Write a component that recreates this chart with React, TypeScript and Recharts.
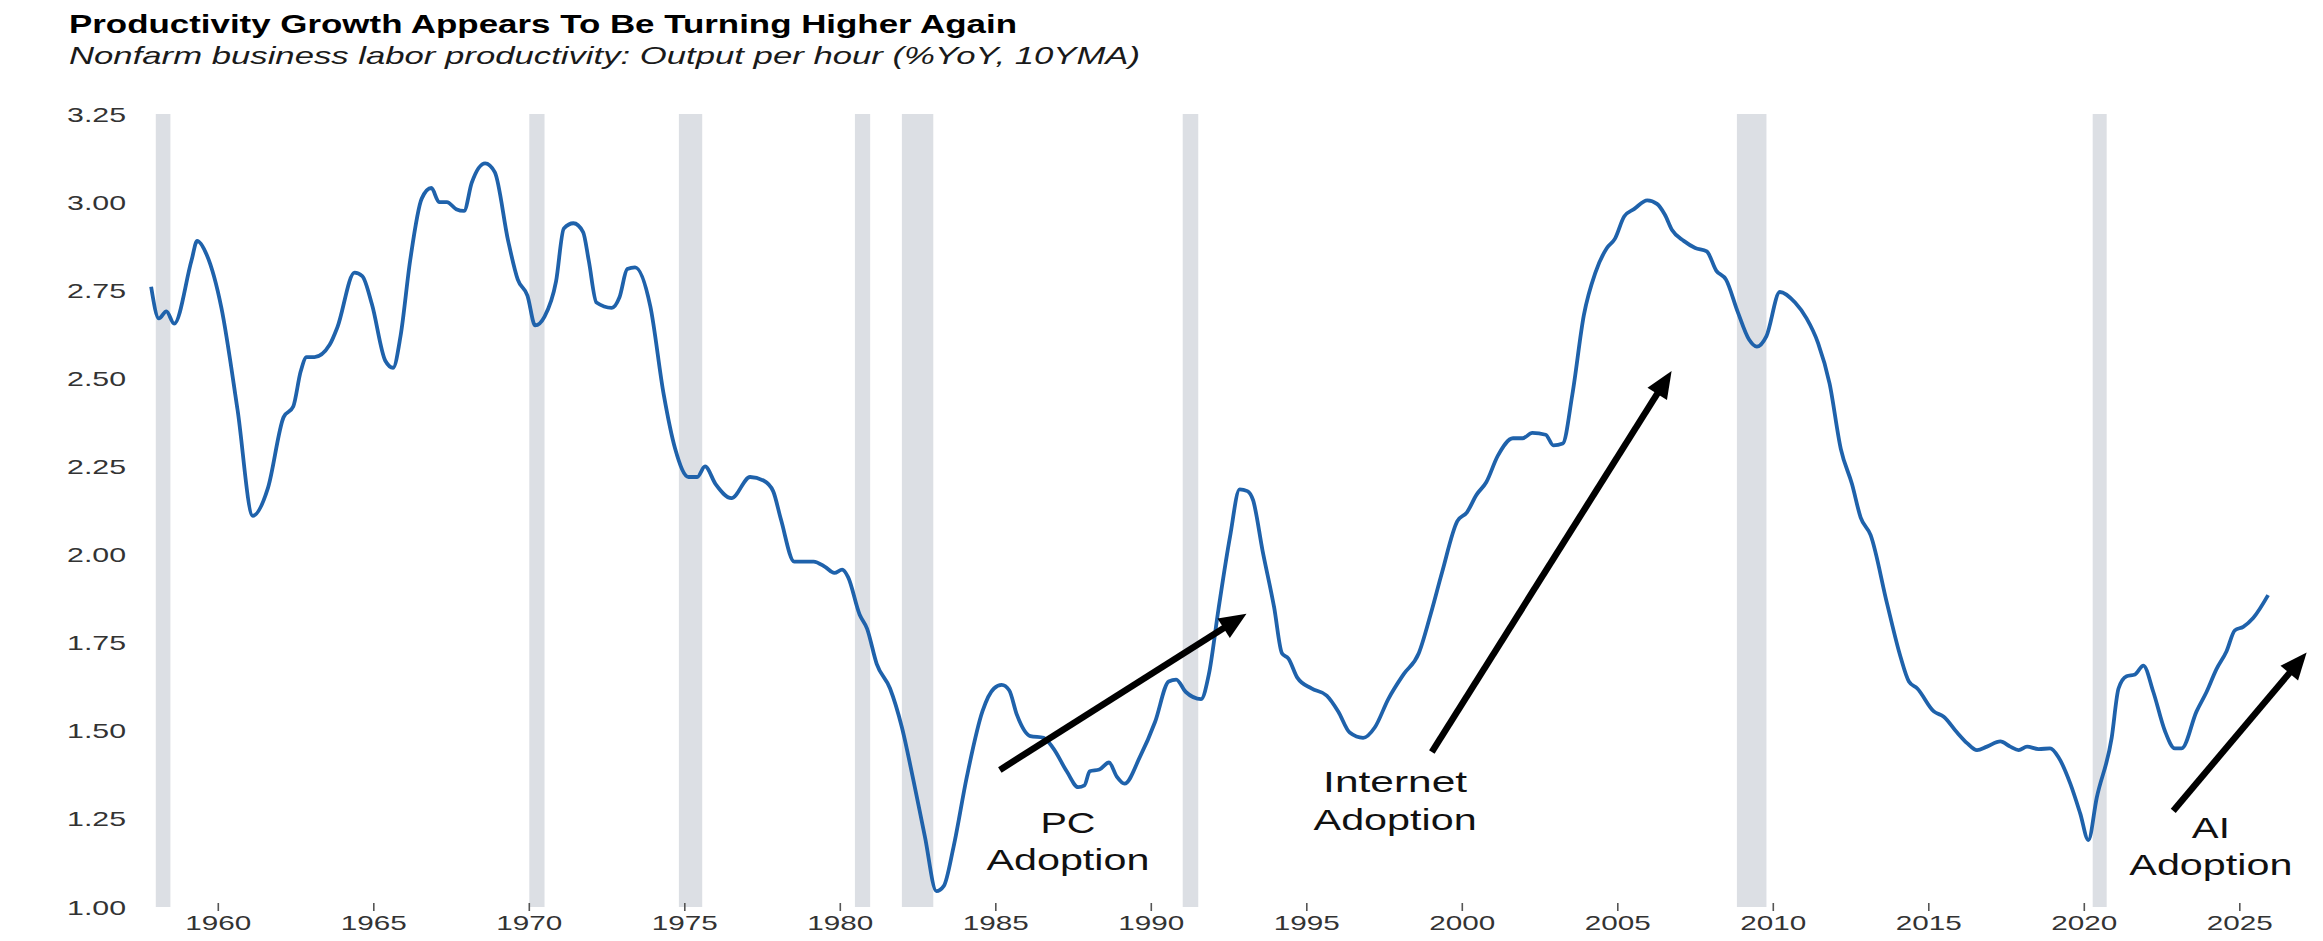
import React from 'react';
import { LineChart, Line, XAxis, YAxis, ReferenceArea, ReferenceLine, ReferenceDot } from 'recharts';

// Nonfarm business labor productivity, %YoY, 10-year moving average
const years = [
  1957.84, 1958.09, 1958.33, 1958.58, 1959.14, 1959.32, 1959.63, 1960.1, 1960.62, 1961.11,
  1961.6, 1962.1, 1962.41, 1962.65, 1962.84, 1963.09, 1963.58, 1963.83, 1964.38, 1964.63,
  1964.94, 1965.37, 1965.62, 1965.86, 1966.17, 1966.54, 1966.85, 1967.1, 1967.35, 1967.65,
  1967.9, 1968.15, 1968.58, 1968.89, 1969.32, 1969.63, 1969.94, 1970.19, 1970.49, 1970.86,
  1971.11, 1971.42, 1971.73, 1971.91, 1972.16, 1972.65, 1972.9, 1973.15, 1973.4, 1973.89,
  1974.32, 1974.69, 1975.12, 1975.4, 1975.65, 1975.99, 1976.5, 1977.1, 1977.53, 1977.84,
  1978.09, 1978.52, 1978.83, 1979.14, 1979.51, 1979.81, 1980.06, 1980.25, 1980.62, 1980.86,
  1981.17, 1981.6, 1981.98, 1982.35, 1982.72, 1983.09, 1983.33, 1983.64, 1984.07, 1984.57,
  1984.94, 1985.19, 1985.43, 1985.68, 1986.11, 1986.54, 1986.85, 1987.28, 1987.65, 1987.85,
  1988.02, 1988.33, 1988.64, 1988.89, 1989.14, 1989.63, 1990.12, 1990.56, 1990.8, 1991.11,
  1991.6, 1991.85, 1992.16, 1992.53, 1992.84, 1993.09, 1993.27, 1993.58, 1993.95, 1994.2,
  1994.41, 1994.7, 1995.15, 1995.64, 1996.01, 1996.38, 1996.81, 1997.19, 1997.62, 1998.11,
  1998.6, 1998.98, 1999.35, 1999.84, 2000.15, 2000.46, 2000.77, 2001.14, 2001.63, 2001.94,
  2002.25, 2002.68, 2002.93, 2003.23, 2003.54, 2003.91, 2004.28, 2004.65, 2004.9, 2005.21,
  2005.52, 2005.95, 2006.26, 2006.51, 2006.75, 2007.12, 2007.49, 2007.86, 2008.17, 2008.48,
  2008.85, 2009.22, 2009.47, 2009.78, 2010.21, 2010.7, 2011.07, 2011.44, 2011.81, 2012.17,
  2012.53, 2012.81, 2013.13, 2013.66, 2014.09, 2014.36, 2014.63, 2015.16, 2015.48, 2015.91,
  2016.23, 2016.55, 2016.87, 2017.3, 2017.62, 2017.89, 2018.16, 2018.53, 2018.9, 2019.17,
  2019.55, 2019.87, 2020.13, 2020.4, 2020.88, 2021.1, 2021.36, 2021.63, 2021.9, 2022.22,
  2022.59, 2022.91, 2023.13, 2023.61, 2023.93, 2024.25, 2024.57, 2024.84, 2025.11, 2025.43,
  2025.91,
];

const productivity = [
  2.76, 2.67, 2.69, 2.655, 2.835, 2.89, 2.85, 2.7, 2.41, 2.11,
  2.19, 2.39, 2.42, 2.52, 2.56, 2.56, 2.595, 2.645, 2.8, 2.79,
  2.71, 2.55, 2.53, 2.62, 2.835, 3.01, 3.04, 3.0, 3.0, 2.98,
  2.975, 3.055, 3.11, 3.085, 2.89, 2.78, 2.735, 2.65, 2.675, 2.775,
  2.925, 2.94, 2.915, 2.835, 2.715, 2.7, 2.73, 2.81, 2.815, 2.705,
  2.455, 2.3, 2.22, 2.22, 2.25, 2.2, 2.16, 2.22, 2.21, 2.18,
  2.1, 1.98, 1.98, 1.98, 1.965, 1.948, 1.957, 1.936, 1.83, 1.79,
  1.69, 1.62, 1.51, 1.36, 1.2, 1.045, 1.06, 1.17, 1.37, 1.555,
  1.62, 1.63, 1.615, 1.545, 1.485, 1.48, 1.45, 1.385, 1.34, 1.345,
  1.385, 1.39, 1.41, 1.37, 1.35, 1.425, 1.525, 1.64, 1.645, 1.61,
  1.59, 1.66, 1.845, 2.05, 2.185, 2.18, 2.155, 2.01, 1.85, 1.72,
  1.705, 1.65, 1.62, 1.6, 1.555, 1.495, 1.48, 1.51, 1.59, 1.66,
  1.72, 1.83, 1.95, 2.095, 2.12, 2.17, 2.205, 2.28, 2.33, 2.33,
  2.345, 2.34, 2.31, 2.315, 2.455, 2.68, 2.8, 2.87, 2.895, 2.96,
  2.98, 3.005, 2.995, 2.965, 2.92, 2.89, 2.87, 2.86, 2.805, 2.78,
  2.69, 2.61, 2.59, 2.62, 2.745, 2.715, 2.67, 2.6, 2.485, 2.3,
  2.2, 2.105, 2.055, 1.86, 1.71, 1.64, 1.62, 1.555, 1.54, 1.495,
  1.465, 1.445, 1.455, 1.47, 1.455, 1.445, 1.455, 1.448, 1.45, 1.425,
  1.35, 1.265, 1.19, 1.31, 1.48, 1.62, 1.655, 1.66, 1.685, 1.61,
  1.5, 1.45, 1.45, 1.555, 1.61, 1.675, 1.725, 1.785, 1.795, 1.82,
  1.885,
];

const recessionStart = [1957.99, 1970.0, 1974.81, 1980.47, 1981.98, 1991.01, 2008.83, 2020.27];
const recessionEnd = [1958.46, 1970.49, 1975.56, 1980.96, 1982.99, 1991.51, 2009.78, 2020.72];

const yTicks = [1, 1.25, 1.5, 1.75, 2, 2.25, 2.5, 2.75, 3, 3.25];
const xTicks = [1960, 1965, 1970, 1975, 1980, 1985, 1990, 1995, 2000, 2005, 2010, 2015, 2020, 2025];

// annotation arrows: tail -> head, in (year, value)
const arrowTailYear = [1985.13, 1999.02, 2022.86];
const arrowTailValue = [1.389, 1.44, 1.273];
const arrowHeadYear = [1993.06, 2006.73, 2027.15];
const arrowHeadValue = [1.832, 2.521, 1.722];

const noteLines = [
  ['PC', 'Adoption'],
  ['Internet', 'Adoption'],
  ['AI', 'Adoption'],
];
const noteYear = [1987.32, 1997.84, 2024.07];
const noteValue = [1.21, 1.326, 1.197];

const FONT = '"Liberation Sans", Arial, Helvetica, sans-serif';
// the source picture is stretched sideways, so text is given a fixed drawn width
const noteWidth: Record<string, number> = { PC: 55, Internet: 144, AI: 38, Adoption: 163 };

const data = years.map((year, i) => ({ year, value: productivity[i] }));

const YTick = (props: any) => {
  const { x, y, payload } = props;
  return (
    <text
      x={x}
      y={y + 7.5}
      textAnchor="end"
      fontSize={21}
      fontFamily={FONT}
      fill="#333"
      textLength={59}
      lengthAdjust="spacingAndGlyphs"
    >
      {Number(payload.value).toFixed(2)}
    </text>
  );
};

const XTick = (props: any) => {
  const { x, y, payload } = props;
  return (
    <g>
      <line x1={x} x2={x} y1={y - 4} y2={y + 4} stroke="#555" strokeWidth={1.6} />
      <text
        x={x}
        y={y + 23}
        textAnchor="middle"
        fontSize={21}
        fontFamily={FONT}
        fill="#333"
        textLength={66}
        lengthAdjust="spacingAndGlyphs"
      >
        {payload.value}
      </text>
    </g>
  );
};

const Arrow = (props: any) => {
  const { x1, y1, x2, y2 } = props;
  const dx = x2 - x1;
  const dy = y2 - y1;
  const len = Math.hypot(dx, dy) || 1;
  const ux = dx / len;
  const uy = dy / len;
  const headLen = 27;
  const headHalf = 11.5;
  const bx = x2 - ux * headLen;
  const by = y2 - uy * headLen;
  return (
    <g>
      <line x1={x1} y1={y1} x2={bx + ux * 3} y2={by + uy * 3} stroke="#000" strokeWidth={6.5} />
      <polygon
        points={`${x2},${y2} ${bx - uy * headHalf},${by + ux * headHalf} ${bx + uy * headHalf},${by - ux * headHalf}`}
        fill="#000"
      />
    </g>
  );
};

const makeNote = (lines: string[]) => (props: any) => {
  const { cx, cy } = props;
  return (
    <g>
      {lines.map((t, k) => (
        <text
          key={t + k}
          x={cx}
          y={cy + k * 37.5}
          textAnchor="middle"
          fontSize={30}
          fontFamily={FONT}
          fill="#111"
          textLength={noteWidth[t]}
          lengthAdjust="spacingAndGlyphs"
        >
          {t}
        </text>
      ))}
    </g>
  );
};

export default function App() {
  return (
    <div
      style={{
        position: 'absolute',
        left: 0,
        top: 0,
        width: 2323,
        height: 941,
        background: '#fff',
        overflow: 'hidden',
        fontFamily: FONT,
      }}
    >
      <svg width={2323} height={80} style={{ position: 'absolute', left: 0, top: 0 }}>
        <text
          x={69}
          y={33}
          fontSize={25}
          fontWeight="bold"
          fontFamily={FONT}
          fill="#000"
          textLength={948}
          lengthAdjust="spacingAndGlyphs"
        >
          Productivity Growth Appears To Be Turning Higher Again
        </text>
        <text
          x={69}
          y={64}
          fontSize={24}
          fontStyle="italic"
          fontFamily={FONT}
          fill="#1a1a1a"
          textLength={1071}
          lengthAdjust="spacingAndGlyphs"
        >
          Nonfarm business labor productivity: Output per hour (%YoY, 10YMA)
        </text>
      </svg>
      <div style={{ position: 'absolute', left: 0, top: 0 }}>
        <LineChart
          width={2323}
          height={941}
          data={data}
          margin={{ top: 114, right: 5.45, bottom: 0, left: 40.55 }}
        >
          <XAxis
            dataKey="year"
            type="number"
            domain={[1957.5, 2027.5]}
            ticks={xTicks}
            interval={0}
            allowDataOverflow
            axisLine={false}
            tickLine={false}
            tickSize={0}
            tickMargin={0}
            height={34}
            tick={<XTick />}
          />
          <YAxis
            type="number"
            domain={[1, 3.25]}
            ticks={yTicks}
            interval={0}
            allowDataOverflow
            axisLine={false}
            tickLine={false}
            tickSize={0}
            tickMargin={14.5}
            width={100}
            tick={<YTick />}
          />
          {recessionStart.map((s, i) => (
            <ReferenceArea
              key={'rec' + i}
              x1={s}
              x2={recessionEnd[i]}
              fill="#dcdfe4"
              fillOpacity={1}
              stroke="none"
            />
          ))}
          <Line
            type="monotone"
            dataKey="value"
            stroke="#1f62ab"
            strokeWidth={3.8}
            dot={false}
            activeDot={false}
            isAnimationActive={false}
          />
          {arrowTailYear.map((ty, i) => (
            <ReferenceLine
              key={'arrow' + i}
              segment={[
                { x: ty, y: arrowTailValue[i] },
                { x: arrowHeadYear[i], y: arrowHeadValue[i] },
              ]}
              stroke="#000"
              ifOverflow="visible"
              shape={Arrow}
            />
          ))}
          {noteYear.map((ny, i) => (
            <ReferenceDot
              key={'note' + i}
              x={ny}
              y={noteValue[i]}
              r={0}
              ifOverflow="visible"
              shape={makeNote(noteLines[i])}
            />
          ))}
        </LineChart>
      </div>
    </div>
  );
}
